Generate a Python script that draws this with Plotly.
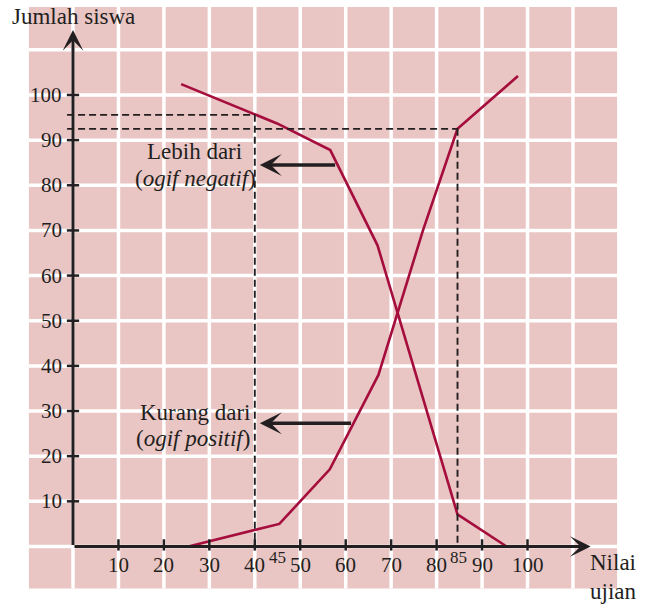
import plotly.graph_objects as go

# ---- data ----
x_ticks = [10, 20, 30, 40, 50, 60, 70, 80, 90, 100]
y_ticks = [10, 20, 30, 40, 50, 60, 70, 80, 90, 100]

# "Lebih dari" (ogif negatif)
neg_x = [23.8, 44.9, 56.6, 67.0, 84.6, 95.4]
neg_y = [102.4, 93.7, 87.8, 66.7, 7.1, 0.0]

# "Kurang dari" (ogif positif)
pos_x = [25.4, 45.4, 56.5, 67.2, 77.0, 84.6, 97.9]
pos_y = [0.0, 5.0, 17.1, 38.0, 70.0, 92.5, 104.2]

# dashed reading lines: (x on axis, y on axis)
ref_x = [40, 84.6]
ref_y = [95.6, 92.5]
ref_x_labels = ["45", "85"]
ref_label_x = [45.0, 84.8]

grid_vals = [0, 10, 20, 30, 40, 50, 60, 70, 80, 90, 100, 110]

# ---- styles ----
PINK = "#E9C5C4"
RED = "#A50D3C"
INK = "#231F20"
FONT = "Liberation Serif, Times New Roman, DejaVu Serif, serif"
FS = 21
FW = 23

fig = go.Figure()

fig.add_trace(go.Scatter(x=neg_x, y=neg_y, mode="lines",
                         line=dict(color=RED, width=2.6), hoverinfo="skip"))
fig.add_trace(go.Scatter(x=pos_x, y=pos_y, mode="lines",
                         line=dict(color=RED, width=2.6), hoverinfo="skip"))

shapes = []
# pink background block
shapes.append(dict(type="rect", xref="x", yref="y", x0=-9.7, x1=119.7, y0=-9.3, y1=119.5,
                   fillcolor=PINK, line=dict(width=0), layer="below"))
# white grid
for g in grid_vals:
    shapes.append(dict(type="line", xref="x", yref="y", x0=g, x1=g, y0=-9.3, y1=119.5,
                       line=dict(color="white", width=3.5), layer="below"))
    shapes.append(dict(type="line", xref="x", yref="y", x0=-9.7, x1=119.7, y0=g, y1=g,
                       line=dict(color="white", width=3.5), layer="below"))
# dashed reading lines
for rx, ry in zip(ref_x, ref_y):
    shapes.append(dict(type="line", xref="x", yref="y", x0=-1.3, x1=rx, y0=ry, y1=ry,
                       line=dict(color=INK, width=1.9, dash="7px,4px"), layer="above"))
    shapes.append(dict(type="line", xref="x", yref="y", x0=rx, x1=rx, y0=ry, y1=0,
                       line=dict(color=INK, width=1.9, dash="7px,4px"), layer="above"))
# ticks
for t in x_ticks:
    shapes.append(dict(type="line", xref="x", yref="y", x0=t, x1=t, y0=-0.9, y1=1.6,
                       line=dict(color=INK, width=2.5), layer="above"))
for t in y_ticks:
    shapes.append(dict(type="line", xref="x", yref="y", x0=-1.35, x1=1.35, y0=t, y1=t,
                       line=dict(color=INK, width=2.5), layer="above"))

annotations = []
# axes with arrowheads
annotations.append(dict(x=113.9, y=0, ax=0, ay=0, xref="x", yref="y", axref="x", ayref="y",
                        text="", showarrow=True, arrowhead=3, arrowsize=1.15, arrowwidth=3,
                        arrowcolor=INK, standoff=0))
annotations.append(dict(x=0, y=114.4, ax=0, ay=0, xref="x", yref="y", axref="x", ayref="y",
                        text="", showarrow=True, arrowhead=3, arrowsize=1.15, arrowwidth=3,
                        arrowcolor=INK, standoff=0))
# tick labels
for t in x_ticks:
    annotations.append(dict(x=t, y=-4.2, xref="x", yref="y", text=str(t), showarrow=False,
                            xanchor="center", yanchor="middle",
                            font=dict(family=FONT, size=FS, color=INK)))
for t in y_ticks:
    annotations.append(dict(x=-1.9, y=t, xref="x", yref="y", text=str(t), showarrow=False,
                            xanchor="right", yanchor="middle",
                            font=dict(family=FONT, size=FS, color=INK)))
for lx, lt in zip(ref_label_x, ref_x_labels):
    annotations.append(dict(x=lx, y=-2.4, xref="x", yref="y", text=lt, showarrow=False,
                            xanchor="center", yanchor="middle",
                            font=dict(family=FONT, size=17, color=INK)))
# axis titles
annotations.append(dict(x=-13.9, y=117.3, xref="x", yref="y", text="Jumlah siswa",
                        showarrow=False, xanchor="left", yanchor="middle",
                        font=dict(family=FONT, size=FW, color=INK)))
annotations.append(dict(x=113.4, y=-3.6, xref="x", yref="y", text="Nilai",
                        showarrow=False, xanchor="left", yanchor="middle",
                        font=dict(family=FONT, size=FW, color=INK)))
annotations.append(dict(x=113.4, y=-9.9, xref="x", yref="y", text="ujian",
                        showarrow=False, xanchor="left", yanchor="middle",
                        font=dict(family=FONT, size=FW, color=INK)))
# curve labels
annotations.append(dict(x=26.7, y=87.4, xref="x", yref="y", text="Lebih dari",
                        showarrow=False, xanchor="center", yanchor="middle",
                        font=dict(family=FONT, size=FW, color=INK)))
annotations.append(dict(x=26.9, y=81.6, xref="x", yref="y", text="(<i>ogif negatif</i>)",
                        showarrow=False, xanchor="center", yanchor="middle",
                        font=dict(family=FONT, size=FW, color=INK)))
annotations.append(dict(x=26.9, y=29.7, xref="x", yref="y", text="Kurang dari",
                        showarrow=False, xanchor="center", yanchor="middle",
                        font=dict(family=FONT, size=FW, color=INK)))
annotations.append(dict(x=26.5, y=23.9, xref="x", yref="y", text="(<i>ogif positif</i>)",
                        showarrow=False, xanchor="center", yanchor="middle",
                        font=dict(family=FONT, size=FW, color=INK)))
# pointer arrows
annotations.append(dict(x=41.1, y=84.5, ax=58.0, ay=84.5, xref="x", yref="y", axref="x", ayref="y",
                        text="", showarrow=True, arrowhead=3, arrowsize=1.05, arrowwidth=3.5,
                        arrowcolor=INK, standoff=0))
annotations.append(dict(x=41.1, y=27.3, ax=61.5, ay=27.3, xref="x", yref="y", axref="x", ayref="y",
                        text="", showarrow=True, arrowhead=3, arrowsize=1.05, arrowwidth=3.5,
                        arrowcolor=INK, standoff=0))

fig.update_layout(
    width=649, height=611, autosize=False,
    margin=dict(l=0, r=0, t=0, b=0, pad=0),
    paper_bgcolor="white", plot_bgcolor="white",
    showlegend=False,
    font=dict(family=FONT, color=INK),
    shapes=shapes, annotations=annotations,
    xaxis=dict(range=[-16.06, 126.73], visible=False, fixedrange=True),
    yaxis=dict(range=[-14.29, 121.04], visible=False, fixedrange=True),
)

fig.write_html("out.html")
